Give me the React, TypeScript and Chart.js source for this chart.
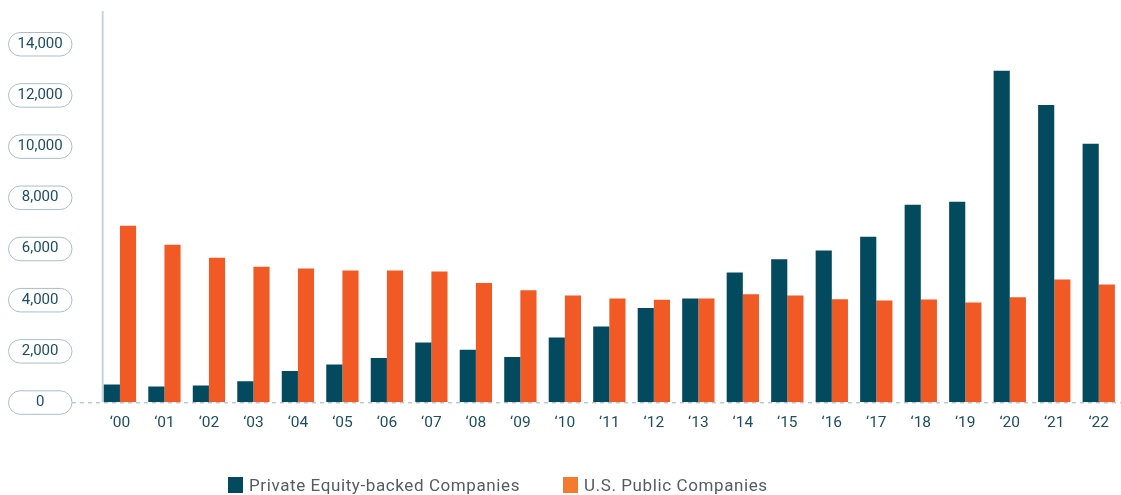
import React, { useEffect, useRef } from "react";
import { Chart, registerables } from "chart.js";

Chart.register(...registerables);

const categories = ["‘00", "‘01", "‘02", "‘03", "‘04", "‘05", "‘06", "‘07", "‘08", "‘09", "‘10", "‘11", "‘12", "‘13", "‘14", "‘15", "‘16", "‘17", "‘18", "‘19", "‘20", "‘21", "‘22"];
const privateEquityBacked = [700, 620, 660, 820, 1220, 1480, 1730, 2340, 2050, 1770, 2530, 2960, 3680, 4060, 5070, 5590, 5930, 6470, 7720, 7840, 12950, 11620, 10100];
const usPublic = [6900, 6160, 5650, 5300, 5225, 5150, 5150, 5110, 4665, 4380, 4170, 4060, 4010, 4060, 4220, 4170, 4030, 3980, 4020, 3900, 4100, 4800, 4600];
const seriesNames = ["Private Equity-backed Companies", "U.S. Public Companies"];
const yTickValues = [0, 2000, 4000, 6000, 8000, 10000, 12000, 14000];

const DARK = "#044a5f";
const ORANGE = "#f15a24";
const LEGEND_ORANGE = "#f37a2e";
const TEXT = "#1d4e62";
const FONT = "Roboto, 'Open Sans', sans-serif";

const decorPlugin = {
  id: "decor",
  beforeDatasetsDraw(chart: any) {
    const { ctx, chartArea, scales } = chart;
    const y0 = scales.y.getPixelForValue(0);
    ctx.save();
    // vertical decorative axis line
    ctx.strokeStyle = "#c8d5db";
    ctx.lineWidth = 2;
    ctx.beginPath();
    ctx.moveTo(102.7, 11);
    ctx.lineTo(102.7, y0);
    ctx.stroke();
    // dashed zero line
    ctx.strokeStyle = "#9db4be";
    ctx.lineWidth = 1;
    ctx.setLineDash([4, 4]);
    ctx.beginPath();
    ctx.moveTo(72, y0 + 0.5);
    ctx.lineTo(chartArea.right, y0 + 0.5);
    ctx.stroke();
    ctx.setLineDash([]);
    // pills around y tick labels
    ctx.strokeStyle = "#a9bfc8";
    ctx.lineWidth = 1;
    scales.y.ticks.forEach((t: any) => {
      const y = scales.y.getPixelForValue(t.value);
      ctx.beginPath();
      (ctx as any).roundRect(8.5, y - 11.5, 63.5, 23.5, 11.75);
      ctx.stroke();
    });
    ctx.restore();
  },
};

export default function App() {
  const canvasRef = useRef<HTMLCanvasElement | null>(null);

  useEffect(() => {
    if (!canvasRef.current) return;
    const chart = new Chart(canvasRef.current, {
      type: "bar",
      data: {
        labels: categories,
        datasets: [
          {
            label: seriesNames[0],
            data: privateEquityBacked,
            backgroundColor: DARK,
            borderWidth: 0,
            categoryPercentage: 0.726,
            barPercentage: 1.0,
          },
          {
            label: seriesNames[1],
            data: usPublic,
            backgroundColor: ORANGE,
            borderWidth: 0,
            categoryPercentage: 0.726,
            barPercentage: 1.0,
          },
        ],
      },
      options: {
        animation: false,
        responsive: false,
        maintainAspectRatio: false,
        layout: { padding: { top: 43.3, right: 0, bottom: 52.7, left: 0 } },
        plugins: {
          legend: { display: false },
          tooltip: { enabled: false },
        },
        scales: {
          x: {
            grid: { display: false, drawTicks: false },
            border: { display: false },
            ticks: {
              color: TEXT,
              font: { family: FONT, size: 15.5 },
              padding: 11.5,
              maxRotation: 0,
              autoSkip: false,
            },
            afterFit(scale: any) {
              scale.height = 40;
            },
          },
          y: {
            min: 0,
            max: 14000,
            grid: { display: false, drawTicks: false },
            border: { display: false },
            afterBuildTicks(scale: any) {
              scale.ticks = yTickValues.map((v) => ({ value: v }));
            },
            ticks: {
              color: TEXT,
              font: { family: FONT, size: 15 },
              crossAlign: "center",
              padding: 35,
              callback: (v: any) => Number(v).toLocaleString("en-US"),
            },
            afterFit(scale: any) {
              scale.width = 97.7;
            },
          },
        },
      },
      plugins: [decorPlugin],
    });
    return () => chart.destroy();
  }, []);

  const legendItem = (color: string, text: string, left: number) => (
    <div
      style={{
        position: "absolute",
        left,
        top: 475,
        display: "flex",
        alignItems: "center",
        fontFamily: FONT,
        fontSize: 17,
        letterSpacing: 0.6,
        color: "#565b61",
        whiteSpace: "nowrap",
      }}
    >
      <span style={{ display: "inline-block", width: 15, height: 16, background: color, marginRight: 6 }} />
      <span>{text}</span>
    </div>
  );

  return (
    <div style={{ position: "absolute", left: 0, top: 0, width: 1121, height: 495, overflow: "hidden", background: "#fff" }}>
      <canvas ref={canvasRef} width={1121} height={495} style={{ display: "block", width: 1121, height: 495 }} />
      {legendItem(DARK, seriesNames[0], 228)}
      {legendItem(LEGEND_ORANGE, seriesNames[1], 563)}
    </div>
  );
}
